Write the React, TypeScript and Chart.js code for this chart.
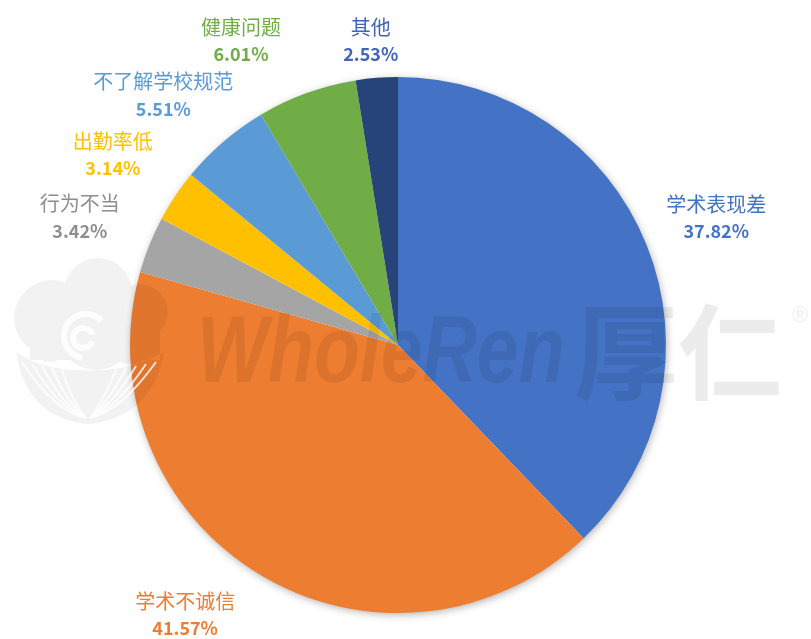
import { useEffect, useRef } from "react";
import { Chart, registerables } from "chart.js";

Chart.register(...registerables);

const categories = ["学术表现差", "学术不诚信", "行为不当", "出勤率低", "不了解学校规范", "健康问题", "其他"];
const values = [37.82, 41.57, 3.42, 3.14, 5.51, 6.01, 2.53];
const percentLabels = ["37.82%", "41.57%", "3.42%", "3.14%", "5.51%", "6.01%", "2.53%"];
const sliceColors = ["#4472C4", "#ED7D31", "#A5A5A5", "#FFC000", "#5B9BD5", "#70AD47", "#264478"];
const labelColors = ["#4472C4", "#ED7D31", "#8E8E8E", "#FFC000", "#5B9BD5", "#70AD47", "#4064B8"];

const CJK = '"Noto Sans CJK SC", "Noto Sans", sans-serif';

const shadowPlugin = {
  id: "pieShadow",
  beforeDatasetsDraw(chart: any) {
    const arc = chart.getDatasetMeta(0).data[0];
    if (!arc) return;
    const { x, y, outerRadius } = arc.getProps(["x", "y", "outerRadius"], true);
    const ctx = chart.ctx;
    ctx.save();
    ctx.shadowColor = "rgba(0,0,0,0.35)";
    ctx.shadowBlur = 9;
    ctx.shadowOffsetX = 1;
    ctx.shadowOffsetY = 2;
    ctx.fillStyle = "#ffffff";
    ctx.beginPath();
    ctx.arc(x, y, outerRadius - 1, 0, Math.PI * 2);
    ctx.fill();
    ctx.restore();
  },
};

const watermarkPlugin = {
  id: "watermark",
  afterDatasetsDraw(chart: any) {
    const ctx = chart.ctx;
    ctx.save();
    const tint = "rgba(0,0,0,0.075)";
    // cloud emblem
    ctx.fillStyle = "rgba(0,0,0,0.05)";
    ctx.beginPath();
    const blobs = [
      [98, 292, 34],
      [52, 318, 38],
      [140, 312, 28],
      [96, 330, 40],
      [130, 338, 26],
      [50, 340, 22],
    ];
    blobs.forEach(([bx, by, br]) => {
      ctx.moveTo(bx + br, by);
      ctx.arc(bx, by, br, 0, Math.PI * 2);
    });
    ctx.rect(30, 330, 130, 30);
    // bowl of leaves
    ctx.moveTo(16, 352);
    ctx.quadraticCurveTo(26, 418, 88, 424);
    ctx.quadraticCurveTo(152, 418, 164, 352);
    ctx.quadraticCurveTo(130, 372, 88, 370);
    ctx.quadraticCurveTo(46, 372, 16, 352);
    ctx.fill();
    // white swirl and leaf veins
    ctx.strokeStyle = "rgba(255,255,255,0.8)";
    ctx.lineWidth = 6;
    ctx.beginPath();
    ctx.arc(83, 338, 10, Math.PI * 0.1, Math.PI * 1.9);
    ctx.stroke();
    ctx.beginPath();
    ctx.arc(86, 336, 22, Math.PI * 0.55, Math.PI * 1.75);
    ctx.stroke();
    ctx.lineWidth = 2;
    for (let k = 0; k < 5; k++) {
      ctx.beginPath();
      ctx.moveTo(22 + k * 10, 362 + k * 2);
      ctx.quadraticCurveTo(55 + k * 4, 412 - k * 3, 86, 418);
      ctx.stroke();
      ctx.beginPath();
      ctx.moveTo(156 - k * 10, 362 + k * 2);
      ctx.quadraticCurveTo(120 - k * 4, 412 - k * 3, 90, 418);
      ctx.stroke();
    }
    // text
    ctx.fillStyle = tint;
    ctx.textBaseline = "alphabetic";
    ctx.textAlign = "left";
    ctx.save();
    ctx.translate(197, 382);
    ctx.scale(0.8, 1);
    ctx.font = 'italic bold 94px "Liberation Sans", Arial, sans-serif';
    ctx.fillText("WholeRen", 0, 0);
    ctx.restore();
    ctx.font = 'bold 104px "Noto Sans CJK SC", sans-serif';
    ctx.fillText("厚仁", 574, 392);
    ctx.font = '22px "Liberation Sans", sans-serif';
    ctx.fillText("®", 792, 322);
    ctx.restore();
  },
};

const NAME_FONT = `20px ${CJK}`;
const PCT_FONT = `bold 18px ${CJK}`;

const labelPlugin = {
  id: "outsideLabels",
  afterDraw(chart: any) {
    const meta = chart.getDatasetMeta(0);
    const ctx = chart.ctx;
    const H = chart.height;
    ctx.save();
    ctx.textAlign = "center";
    ctx.textBaseline = "middle";

    const items = meta.data.map((arc: any, i: number) => {
      const p = arc.getProps(["x", "y", "startAngle", "endAngle", "outerRadius"], true);
      ctx.font = NAME_FONT;
      const w1 = ctx.measureText(categories[i]).width;
      ctx.font = PCT_FONT;
      const w2 = ctx.measureText(percentLabels[i]).width;
      const mid = (p.startAngle + p.endAngle) / 2;
      return { i, p, mid, w: Math.max(w1, w2) + 4, h: 52 };
    });

    const place = (it: any, ang: number) => {
      const p = it.p;
      const r = p.outerRadius * 1.28;
      let dx = Math.cos(ang) * r;
      let dy = Math.sin(ang) * r;
      const bottomLimit = H - 25 - p.y;
      const topLimit = 40 - p.y;
      const nearVertical = Math.abs(Math.cos(ang)) < 0.17;
      if (dy > bottomLimit) {
        dy = bottomLimit;
        if (!nearVertical) dx = Math.sign(dx) * Math.sqrt(Math.max(0, r * r - dy * dy));
      } else if (dy < topLimit) {
        dy = topLimit;
        if (!nearVertical) dx = Math.sign(dx) * Math.sqrt(Math.max(0, r * r - dy * dy));
      }
      return { x: p.x + dx, y: p.y + dy };
    };

    const overlaps = (a: any, b: any) =>
      Math.abs(a.x - b.x) < (a.w + b.w) / 2 + 2 && Math.abs(a.y - b.y) < (a.h + b.h) / 2 + 2;

    const topAngle = -Math.PI / 2;
    const order = [...items].sort((a: any, b: any) => {
      const da = Math.abs(Math.atan2(Math.sin(a.mid - topAngle), Math.cos(a.mid - topAngle)));
      const db = Math.abs(Math.atan2(Math.sin(b.mid - topAngle), Math.cos(b.mid - topAngle)));
      return da - db;
    });
    const placed: any[] = [];
    order.forEach((it: any) => {
      let ang = it.mid;
      let pos = place(it, ang);
      let box = { ...pos, w: it.w, h: it.h };
      for (let step = 0; step < 120; step++) {
        const hit = placed.find((q) => overlaps(box, q));
        if (!hit) break;
        const diff = Math.atan2(Math.sin(it.mid - hit.mid), Math.cos(it.mid - hit.mid));
        ang += (diff >= 0 ? 1 : -1) * (Math.PI / 360);
        pos = place(it, ang);
        box = { ...pos, w: it.w, h: it.h };
      }
      placed.push({ ...box, mid: it.mid });
      const i = it.i;
      ctx.fillStyle = labelColors[i];
      ctx.font = NAME_FONT;
      ctx.fillText(categories[i], box.x, box.y - 13);
      ctx.font = PCT_FONT;
      ctx.fillText(percentLabels[i], box.x, box.y + 14);
    });
    ctx.restore();
  },
};

export default function App() {
  const canvasRef = useRef<HTMLCanvasElement | null>(null);

  useEffect(() => {
    const canvas = canvasRef.current;
    if (!canvas) return;
    const chart = new Chart(canvas, {
      type: "pie",
      data: {
        labels: categories,
        datasets: [
          {
            data: values,
            backgroundColor: sliceColors,
            borderWidth: 0,
          },
        ],
      },
      options: {
        responsive: false,
        animation: false,
        layout: { padding: { top: 77, bottom: 26, left: 0, right: 15 } },
        plugins: {
          legend: { display: false },
          tooltip: { enabled: false },
          title: { display: false },
        },
      },
      plugins: [shadowPlugin, watermarkPlugin, labelPlugin],
    });
    return () => chart.destroy();
  }, []);

  return (
    <div style={{ position: "absolute", left: 0, top: 0, width: 811, height: 639, background: "#ffffff" }}>
      <canvas ref={canvasRef} width={811} height={639} style={{ display: "block", width: 811, height: 639 }} />
    </div>
  );
}
